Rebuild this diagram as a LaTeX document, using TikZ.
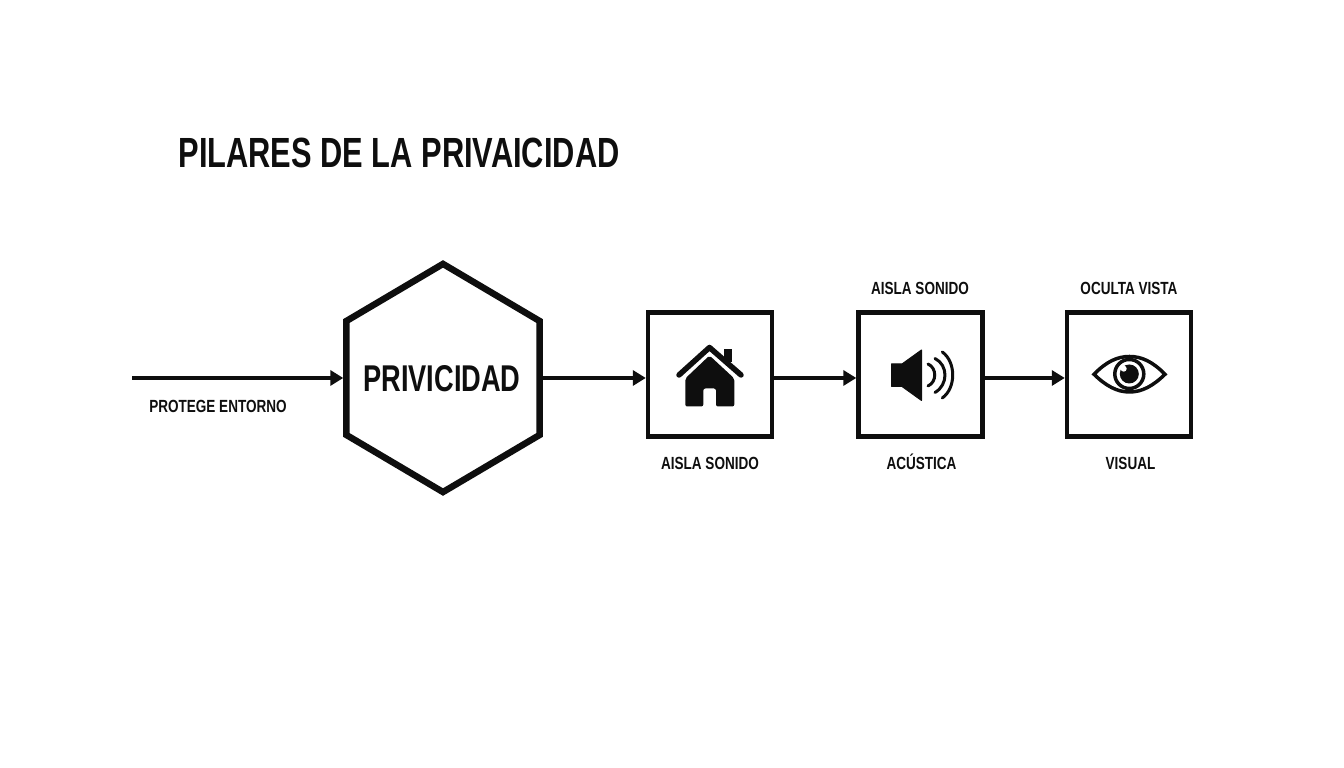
\documentclass[tikz,border=0pt]{standalone}
\usepackage{fontspec}
\setmainfont{Liberation Sans}[FakeStretch=0.77]
\newfontfamily\headfont{Liberation Sans}[FakeStretch=0.73]
\usetikzlibrary{arrows.meta,shapes.geometric}
\definecolor{ink}{HTML}{0E0E0E}
\tikzset{
  hexnode/.style={draw=ink, line width=0.065cm, regular polygon, regular polygon sides=6,
    shape border rotate=30, minimum size=2.28cm, inner sep=0pt, transform shape, xscale=0.977},
  boxnode/.style={draw=ink, line width=0.043cm, minimum size=1.24cm, inner sep=0pt},
  flow/.style={draw=ink, line width=0.04cm, -{Triangle[length=0.13cm,width=0.15cm]}},
  caption/.style={text=ink, font=\fontsize{5}{6}\selectfont\bfseries, inner sep=0pt,
    text height=0.125cm, text depth=0pt}
}
\begin{document}
\begin{tikzpicture}[x=0.01cm, y=-0.01cm]
\useasboundingbox (0,0) rectangle (1344,768);

\node[text=ink, inner sep=0pt, font=\fontsize{12}{14}\headfont\bfseries] (title) at (399,153) {PILARES DE LA PRIVAICIDAD};

\coordinate (start) at (132,378);
\node[hexnode] (hex) at (443,378) {};
\node[text=ink, inner sep=0pt, font=\fontsize{10.6}{12}\headfont\bfseries] (hexlabel) at (442,379) {PRIVICIDAD};
\node[boxnode] (house) at (710,374.5) {};
\node[boxnode] (sound) at (920.5,374.5) {};
\node[boxnode] (eye) at (1129,374.5) {};

\draw[flow] (start) -- (hex.west);
\draw[flow, shorten <=-0.03cm] (hex.east) -- (hex.east -| house.west);
\draw[flow] (hex.east -| house.east) -- (hex.east -| sound.west);
\draw[flow] (hex.east -| sound.east) -- (hex.east -| eye.west);

\node[caption] (protege) at (218,406) {PROTEGE ENTORNO};
\node[caption] (aislaA) at (710,463) {AISLA SONIDO};
\node[caption] (acustica) at (921.5,463) {ACÚSTICA};
\node[caption] (visual) at (1130.5,463) {VISUAL};
\node[caption] (aislaB) at (920,288) {AISLA SONIDO};
\node[caption] (oculta) at (1129,288) {OCULTA VISTA};

% house
\fill[ink] (724.3,349) rectangle (732.3,362);
\fill[ink, rounded corners=0.02cm] (685.3,378.5) -- (709.5,355.5) -- (734.3,378.5) -- (734.3,406.5)
  -- (716,406.5) -- (716,388.5) -- (703.3,388.5) -- (703.3,406.5) -- (685.3,406.5) -- cycle;
\draw[ink, line width=0.055cm, line cap=round, line join=round] (679,375) -- (709.5,347.5) -- (741,375);

% speaker
\fill[ink, draw=ink, line width=0.01cm, line join=round] (891.5,364) -- (902,364) -- (921.5,350) -- (921.5,400.5)
  -- (902,386.5) -- (891.5,386.5) -- cycle;
\draw[ink, line width=0.03cm, line cap=round] (928,364) .. controls (937,368) and (937,382) .. (928,386);
\draw[ink, line width=0.03cm, line cap=round] (935,358.5) .. controls (948.3,365) and (948.3,385) .. (935,392.5);
\draw[ink, line width=0.03cm, line cap=round] (942.3,352) .. controls (956.2,362) and (956.2,388) .. (942.3,398);

% eye
\draw[ink, line width=0.035cm, line join=miter] (1094,374.3) .. controls (1106,362) and (1117,356.5) .. (1129.5,356.5)
  .. controls (1142,356.5) and (1153,362) .. (1165,374.3) .. controls (1153,386) and (1142,392) .. (1129.5,392)
  .. controls (1117,392) and (1106,386) .. (1094,374.3) -- cycle;
\draw[ink, line width=0.035cm] (1129.3,374) circle (0.145cm);
\fill[ink] (1129.3,374) circle (0.095cm);
\fill[white] (1123.7,368.7) circle (0.03cm);
\end{tikzpicture}
\end{document}
